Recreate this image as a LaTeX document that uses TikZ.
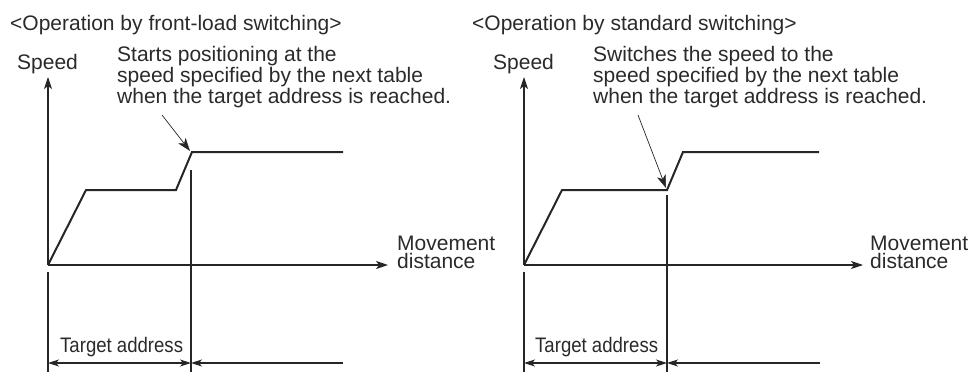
\documentclass[tikz,border=0pt]{standalone}
\usepackage{fontspec}
\setmainfont{Liberation Sans}
\usetikzlibrary{arrows.meta}
\definecolor{ink}{HTML}{262626}
\definecolor{txt}{HTML}{2A2A2A}
\begin{document}
\begin{tikzpicture}[x=1pt,y=-1pt,
  lbl/.style={anchor=base west,inner sep=0pt,text=txt,font=\fontsize{21}{17.5}\selectfont},
  note/.style={lbl,align=left},
  tgt/.style={anchor=base west,inner sep=0pt,text=txt,font=\fontsize{21}{21}\selectfont,xscale=0.885},
  axisline/.style={draw=ink,line width=1.1pt,-{Stealth[length=12pt,width=8pt,inset=3pt]}},
  plain/.style={draw=ink,line width=1.1pt},
  profile/.style={draw=ink,line width=2pt,line join=miter},
  callout/.style={draw=ink,line width=0.7pt,-{Stealth[length=13pt,width=9pt,inset=3.5pt,line width=0.5pt]}},
  dimtip/.style={draw=ink,line width=1.1pt},
]
\useasboundingbox (0,0) rectangle (971,372);

% ---------------- left panel ----------------
\node[lbl] (titleL) at (10,30) {<Operation by front-load switching>};
\node[lbl] (speedL) at (17,69) {Speed};
\node[note] (noteL) at (117,103) {Starts positioning at the\\speed specified by the next table\\when the target address is reached.};
\node[note] (moveL) at (397,268) {Movement\\distance};
\node[tgt] (tgtL) at (60,352) {Target address};

\coordinate (oL) at (48,265);
\coordinate (ytL) at (48,77);
\coordinate (xtL) at (388,265);
\coordinate (p1L) at (86,190);
\coordinate (p2L) at (176,190);
\coordinate (p3L) at (192,152);
\coordinate (p4L) at (343,152);
\coordinate (vtL) at (191,170);
\coordinate (vbL) at (191,372);
\coordinate (ytopL) at (48,272);
\coordinate (ybotL) at (48,372);
\coordinate (cfL) at (162,115);
\coordinate (ctL) at (190,151);
\coordinate (d1L) at (48,363);
\coordinate (d2L) at (191,363);
\coordinate (d3L) at (343,363);

\draw[axisline] (oL) -- (ytL);
\draw[axisline] (oL) -- (xtL);
\draw[profile] (oL) -- (p1L) -- (p2L) -- (p3L) -- (p4L);
\draw[plain] (vtL) -- (vbL);
\draw[plain] (ytopL) -- (ybotL);
\draw[callout] (cfL) -- (ctL);
\draw[dimtip,{Stealth[length=11pt,width=7pt,inset=3pt]}-{Stealth[length=11pt,width=7pt,inset=3pt]}] (d1L) -- (d2L);
\draw[dimtip,{Stealth[length=11pt,width=7pt,inset=3pt]}-] (d2L) -- (d3L);

% ---------------- right panel ----------------
\node[lbl] (titleR) at (472,30) {<Operation by standard switching>};
\node[lbl] (speedR) at (493,69) {Speed};
\node[note] (noteR) at (593,103) {Switches the speed to the\\speed specified by the next table\\when the target address is reached.};
\node[note] (moveR) at (870,268) {Movement\\distance};
\node[tgt] (tgtR) at (535,352) {Target address};

\coordinate (oR) at (524,265);
\coordinate (ytR) at (524,77);
\coordinate (xtR) at (863,265);
\coordinate (p1R) at (562,190);
\coordinate (p2R) at (667,190);
\coordinate (p3R) at (683,152);
\coordinate (p4R) at (819,152);
\coordinate (vtR) at (667,195);
\coordinate (vbR) at (667,372);
\coordinate (ytopR) at (524,272);
\coordinate (ybotR) at (524,372);
\coordinate (cfR) at (638,115);
\coordinate (ctR) at (666,188);
\coordinate (d1R) at (524,363);
\coordinate (d2R) at (667,363);
\coordinate (d3R) at (820,363);

\draw[axisline] (oR) -- (ytR);
\draw[axisline] (oR) -- (xtR);
\draw[profile] (oR) -- (p1R) -- (p2R) -- (p3R) -- (p4R);
\draw[plain] (vtR) -- (vbR);
\draw[plain] (ytopR) -- (ybotR);
\draw[callout] (cfR) -- (ctR);
\draw[dimtip,{Stealth[length=11pt,width=7pt,inset=3pt]}-{Stealth[length=11pt,width=7pt,inset=3pt]}] (d1R) -- (d2R);
\draw[dimtip,{Stealth[length=11pt,width=7pt,inset=3pt]}-] (d2R) -- (d3R);
\end{tikzpicture}
\end{document}
